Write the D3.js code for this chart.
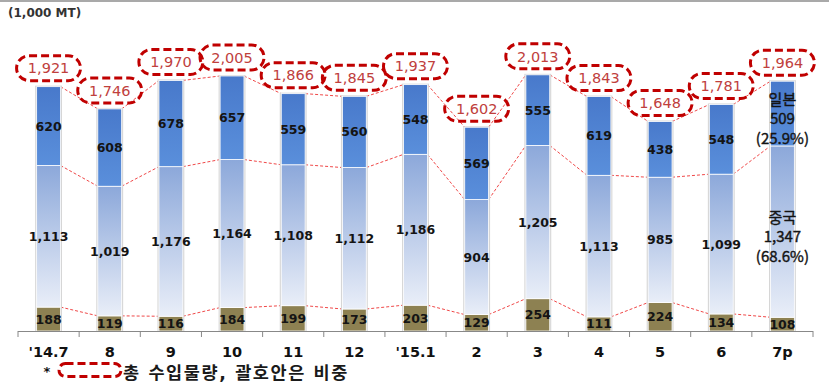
<!DOCTYPE html>
<html>
<head>
<meta charset="utf-8">
<script src="https://cdn.jsdelivr.net/npm/d3@7"></script>
<style>
  body { margin: 0; background: #fff; }
  svg { display: block; }
</style>
</head>
<body>
<div id="chart_area"></div>
<script>
// data (1,000 MT)
const months = ["'14.7", '8', '9', '10', '11', '12', "'15.1", '2', '3', '4', '5', '6', '7p'];
const others = [188, 119, 116, 184, 199, 173, 203, 129, 254, 111, 224, 134, 108];
const china = [1113, 1019, 1176, 1164, 1108, 1112, 1186, 904, 1205, 1113, 985, 1099, 1347];
const japan = [620, 608, 678, 657, 559, 560, 548, 569, 555, 619, 438, 548, 509];
const totals = [1921, 1746, 1970, 2005, 1866, 1845, 1937, 1602, 2013, 1843, 1648, 1781, 1964];
const seriesNames = { china: '중국', japan: '일본' };
const lastShares = { china: '(68.6%)', japan: '(25.9%)' };
const unitLabel = '(1,000 MT)';
const legendText = '총 수입물량, 괄호안은 비중';

const width = 829;
const height = 385;
const plotLeft = 18;
const plotRight = 813;
const baseY = 331;

const table = months.map((m, i) => ({
  month: m,
  others: others[i],
  china: china[i],
  japan: japan[i],
  total: totals[i],
}));
const keys = ['others', 'china', 'japan'];
const stacked = d3.stack().keys(keys)(table);

// scales
const x = d3
  .scaleBand()
  .domain(months)
  .range([plotLeft, plotRight])
  .paddingInner(0.61)
  .paddingOuter(0.305);
const y = d3.scaleLinear().domain([0, 2600]).range([baseY, 0.3]);
const bw = x.bandwidth();
const step = x.step();

const svg = d3
  .select('#chart_area')
  .append('svg')
  .attr('width', width)
  .attr('height', height);

// gradients
const defs = svg.append('defs');
const gradTop = defs.append('linearGradient').attr('id', 'gTop').attr('x1', 0).attr('x2', 0).attr('y1', 0).attr('y2', 1);
gradTop.append('stop').attr('offset', '0%').attr('stop-color', '#4879cb');
gradTop.append('stop').attr('offset', '100%').attr('stop-color', '#5a8fdb');
const gradMid = defs.append('linearGradient').attr('id', 'gMid').attr('x1', 0).attr('x2', 0).attr('y1', 0).attr('y2', 1);
gradMid.append('stop').attr('offset', '0%').attr('stop-color', '#8ca8da');
gradMid.append('stop').attr('offset', '100%').attr('stop-color', '#e9eef8');
const fills = { others: '#8d8152', china: 'url(#gMid)', japan: 'url(#gTop)' };

// top frame line
svg.append('line')
  .attr('x1', 0).attr('x2', width)
  .attr('y1', 1).attr('y2', 1)
  .attr('stroke', '#8c8c8c')
  .attr('stroke-width', 1.5);

// unit label
svg.append('text')
  .attr('x', 8)
  .attr('y', 17)
  .attr('font-family', 'DejaVu Sans')
  .attr('font-weight', 'bold')
  .attr('font-size', '12px')
  .attr('fill', '#333')
  .text(unitLabel);

// series lines (dashed red connectors)
const connectors = svg.append('g');
stacked.forEach(layer => {
  for (let i = 0; i < layer.length - 1; i++) {
    connectors.append('line')
      .attr('x1', x(months[i]) + bw)
      .attr('y1', y(layer[i][1]))
      .attr('x2', x(months[i + 1]))
      .attr('y2', y(layer[i + 1][1]))
      .attr('stroke', '#f04848')
      .attr('stroke-width', 1)
      .attr('stroke-dasharray', '3,2');
  }
});

// bar outlines
svg.append('g')
  .selectAll('rect')
  .data(table)
  .enter()
  .append('rect')
  .attr('x', d => x(d.month) - 1.5)
  .attr('width', bw + 3)
  .attr('y', d => y(d.others + d.china + d.japan) - 1)
  .attr('height', d => baseY - y(d.others + d.china + d.japan) + 1)
  .attr('fill', '#d6d6d6');

// stacked segments
const layers = svg.append('g')
  .selectAll('g')
  .data(stacked)
  .enter()
  .append('g')
  .attr('fill', d => fills[d.key]);
layers.selectAll('rect')
  .data(d => d)
  .enter()
  .append('rect')
  .attr('x', d => x(d.data.month))
  .attr('width', bw)
  .attr('y', d => y(d[1]))
  .attr('height', d => y(d[0]) - y(d[1]))
  .attr('stroke', '#fff')
  .attr('stroke-width', 0.8);

// segment value labels
stacked.forEach(layer => {
  layer.forEach((d, i) => {
    const cx = x(d.data.month) + bw / 2;
    const mid = (y(d[0]) + y(d[1])) / 2;
    const v = d.data[layer.key];
    if (i === layer.length - 1 && layer.key !== 'others') {
      // last month carries series name and share
      const lines = [seriesNames[layer.key], d3.format(',')(v), lastShares[layer.key]];
      const t = svg.append('text')
        .attr('text-anchor', 'middle')
        .attr('font-family', "'Noto Sans CJK KR', 'Noto Sans'")
        .attr('font-size', '15px')
        .attr('fill', '#141414')
        .attr('stroke', '#141414')
        .attr('stroke-width', 0.4);
      lines.forEach((s, k) => {
        t.append('tspan')
          .attr('x', cx)
          .attr('y', mid + 4 + (k - 1) * 19.5)
          .attr('dominant-baseline', 'central')
          .text(s);
      });
      return;
    }
    svg.append('text')
      .attr('x', cx)
      .attr('y', mid)
      .attr('dy', '0.36em')
      .attr('text-anchor', 'middle')
      .attr('font-family', 'DejaVu Sans')
      .attr('font-weight', 'bold')
      .attr('font-size', '12.5px')
      .attr('fill', '#141414')
      .text(d3.format(',')(v));
  });
});

// total labels in dashed rounded boxes
const totalG = svg.append('g')
  .selectAll('g')
  .data(table)
  .enter()
  .append('g')
  .attr('transform', d => 'translate(' + (x(d.month) + bw / 2) + ',' + (y(d.others + d.china + d.japan) - 18.5) + ')');
totalG.append('rect')
  .attr('x', -32)
  .attr('y', -12.5)
  .attr('width', 64)
  .attr('height', 25)
  .attr('rx', 12.5)
  .attr('fill', 'none')
  .attr('stroke', '#c00000')
  .attr('stroke-width', 3)
  .attr('stroke-dasharray', '8,4');
totalG.append('text')
  .attr('text-anchor', 'middle')
  .attr('dy', '0.36em')
  .attr('font-family', 'DejaVu Sans')
  .attr('font-size', '14.5px')
  .attr('fill', '#c0403d')
  .text(d => d3.format(',')(d.total));

// x axis
svg.append('line')
  .attr('x1', plotLeft).attr('x2', plotRight)
  .attr('y1', baseY + 0.5).attr('y2', baseY + 0.5)
  .attr('stroke', '#888');
const tickXs = months.map(m => x(m) + bw / 2 - step / 2).concat([plotRight]);
svg.append('g')
  .selectAll('line')
  .data(tickXs)
  .enter()
  .append('line')
  .attr('x1', d => d).attr('x2', d => d)
  .attr('y1', baseY).attr('y2', baseY + 6)
  .attr('stroke', '#888');
svg.append('g')
  .selectAll('text')
  .data(months)
  .enter()
  .append('text')
  .attr('x', d => x(d) + bw / 2)
  .attr('y', 357)
  .attr('text-anchor', 'middle')
  .attr('font-family', 'DejaVu Sans')
  .attr('font-weight', 'bold')
  .attr('font-size', '14.5px')
  .attr('fill', '#111')
  .text(d => d);

// legend
svg.append('text')
  .attr('x', 47)
  .attr('y', 376)
  .attr('text-anchor', 'middle')
  .attr('font-family', 'DejaVu Sans')
  .attr('font-weight', 'bold')
  .attr('font-size', '13px')
  .attr('fill', '#111')
  .text('*');
svg.append('rect')
  .attr('x', 59)
  .attr('y', 363.5)
  .attr('width', 62)
  .attr('height', 13)
  .attr('rx', 6.5)
  .attr('fill', 'none')
  .attr('stroke', '#c00000')
  .attr('stroke-width', 3)
  .attr('stroke-dasharray', '8,4');
svg.append('text')
  .attr('x', 123)
  .attr('y', 378.5)
  .attr('font-family', "'DejaVu Sans', 'Noto Sans CJK KR'")
  .attr('font-weight', 'bold')
  .attr('font-size', '17.5px')
  .attr('letter-spacing', '1.6px')
  .attr('fill', '#1a1a1a')
  .text(legendText);
</script>
</body>
</html>
